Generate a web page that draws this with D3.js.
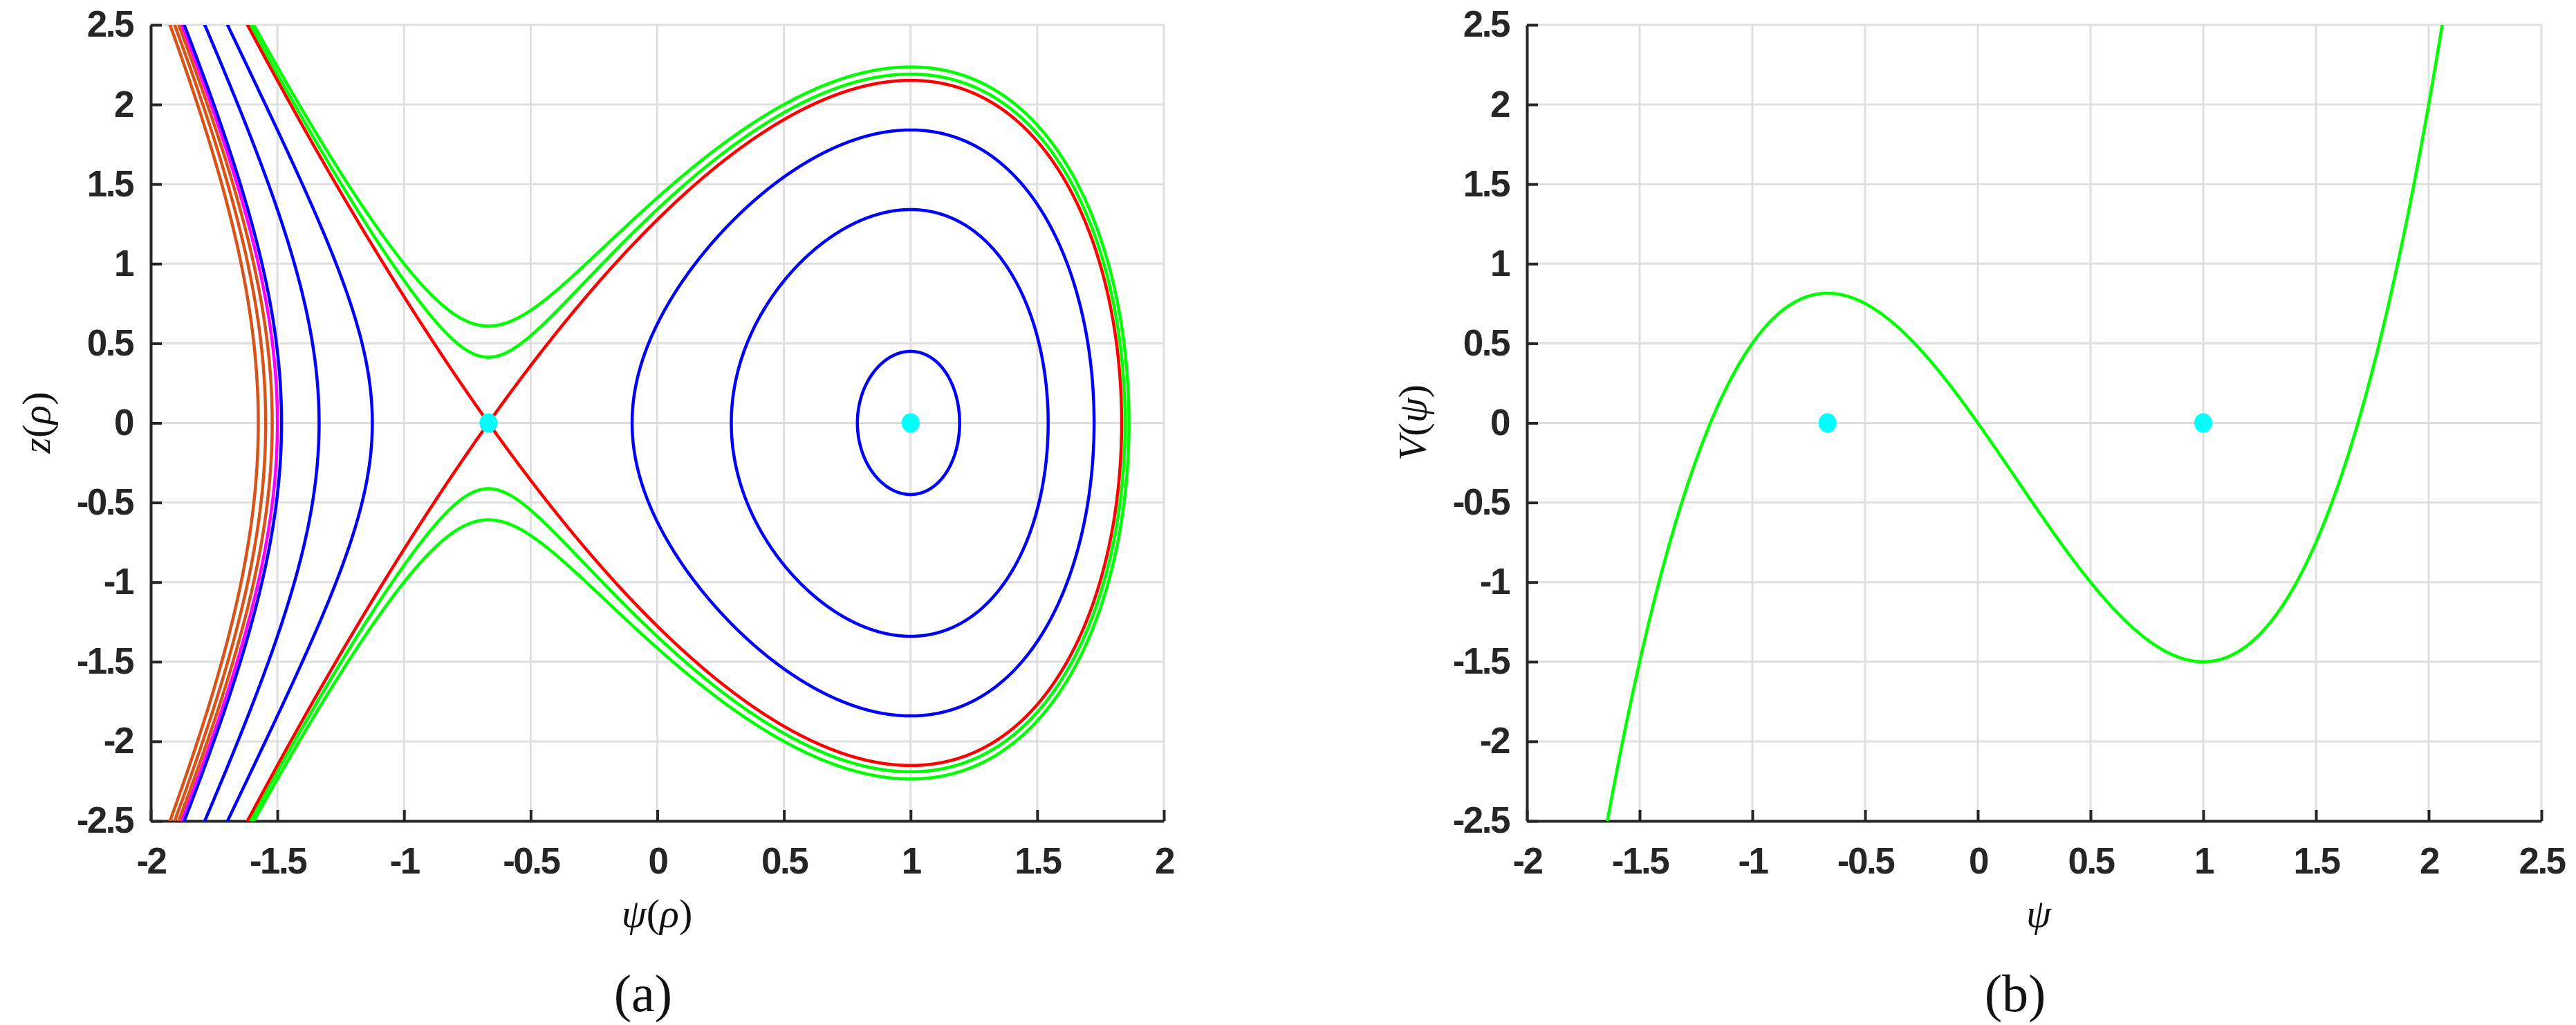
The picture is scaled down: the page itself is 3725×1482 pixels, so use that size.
<!DOCTYPE html>
<html><head><meta charset="utf-8">
<script src="https://cdn.jsdelivr.net/npm/d3@7"></script>
<style>body{margin:0;background:#fff}</style>
</head><body>
<svg id="c" width="3725" height="1482"></svg>
<script>
// Potential V(psi) = a3*psi^3 + a2*psi^2 + a1*psi (max 0.815 at -2/3, min -1.5 at 1)
const potCoef = [1, -0.5, -2];
// Energy levels H = z^2/2 + V(psi), read from the phase portrait
const orangeLevels = [-2.0, -1.8, -1.63];
const magentaLevels = [-1.5];
const blueLevels = [-1.399, -0.602, 0.193];
const redLevels = [22/27];
const greenLevels = [0.9, 1.0];
const fixedPoints = [[-2/3, 0], [1, 0]];
const ticksA_x = [-2,-1.5,-1,-0.5,0,0.5,1,1.5,2];
const ticksB_x = [-2,-1.5,-1,-0.5,0,0.5,1,1.5,2,2.5];
const ticksY = [-2.5,-2,-1.5,-1,-0.5,0,0.5,1,1.5,2,2.5];

const V = p => potCoef[0]*p*p*p + potCoef[1]*p*p + potCoef[2]*p;
const svg = d3.select("#c");
const plotTop = 36, plotBottom = 1187;
const axisCol = "#262626", gridCol = "#dfdfdf";

function panel(x0, x1, xdom, xticks, id) {
  const x = d3.scaleLinear().domain(xdom).range([x0, x1]);
  const y = d3.scaleLinear().domain([-2.5, 2.5]).range([plotBottom, plotTop]);
  const g = svg.append("g");
  g.append("defs").append("clipPath").attr("id", id).append("rect")
    .attr("x", x0).attr("y", plotTop).attr("width", x1-x0).attr("height", plotBottom-plotTop);
  g.selectAll(".gx").data(xticks).enter().append("line")
    .attr("x1", d=>x(d)).attr("x2", d=>x(d)).attr("y1", plotTop).attr("y2", plotBottom)
    .attr("stroke", gridCol).attr("stroke-width", 3);
  g.selectAll(".gy").data(ticksY).enter().append("line")
    .attr("x1", x0).attr("x2", x1).attr("y1", d=>y(d)).attr("y2", d=>y(d))
    .attr("stroke", gridCol).attr("stroke-width", 3);
  const fmt = d => String(d);
  const ax = g.append("g").attr("transform", `translate(0,${plotBottom})`)
    .call(d3.axisBottom(x).tickValues(xticks).tickSizeInner(-16).tickSizeOuter(0).tickPadding(38).tickFormat(fmt));
  const ay = g.append("g").attr("transform", `translate(${x0},0)`)
    .call(d3.axisLeft(y).tickValues(ticksY).tickSizeInner(-16).tickSizeOuter(0).tickPadding(26).tickFormat(fmt));
  [ax, ay].forEach(a => {
    a.select(".domain").attr("stroke", axisCol).attr("stroke-width", 4);
    a.selectAll(".tick line").attr("stroke", axisCol).attr("stroke-width", 4);
    a.selectAll("text").attr("fill", axisCol).attr("font-family", "Liberation Sans, Arial, sans-serif")
      .attr("font-weight", "bold").attr("font-size", 53).attr("letter-spacing", -2.5);
  });
  ax.selectAll("text").attr("dy", "0.71em");
  const plot = g.append("g").attr("clip-path", `url(#${id})`);
  return {x, y, plot, g};
}

const A = panel(218, 1683, [-2, 2], ticksA_x, "clipA");
const B = panel(2208, 3675, [-2, 2.5], ticksB_x, "clipB");

function contourSegments(E) {
  const segs = []; let cur = null;
  const step = 0.0005, lo = -2.05, hi = 2.05;
  let prevP = lo, prevQ = 2*(E - V(lo));
  for (let p = lo; p <= hi + 1e-9; p += step) {
    const q = 2*(E - V(p));
    if (q >= 0) {
      if (!cur) { cur = [];
        if (prevQ < 0) { const r = prevP + (p-prevP)*(-prevQ)/(q-prevQ); cur.push([r, 0]); } }
      cur.push([p, Math.sqrt(q)]);
    } else if (cur) {
      const r = prevP + (p-prevP)*prevQ/(prevQ-q); cur.push([r, 0]);
      segs.push(cur); cur = null;
    }
    prevP = p; prevQ = q;
  }
  if (cur) segs.push(cur);
  return segs;
}
const line = d3.line().x(d=>A.x(d[0])).y(d=>A.y(d[1]));
const groups = [
  [orangeLevels, "#D95319"], [magentaLevels, "#FF00FF"], [blueLevels, "#0000FF"],
  [greenLevels, "#00FF00"], [redLevels, "#FF0000"]
];
groups.forEach(([levels, col]) => {
  levels.forEach(E => {
    contourSegments(E).forEach(seg => {
      const pts = seg.concat(seg.slice().reverse().map(d => [d[0], -d[1]]));
      A.plot.append("path").attr("d", line(pts)).attr("fill", "none")
        .attr("stroke", col).attr("stroke-width", 4.5).attr("stroke-linejoin", "round");
    });
  });
});

const vpts = d3.range(-1.7, 2.12, 0.002).map(p => [p, V(p)]);
B.plot.append("path").attr("d", d3.line().x(d=>B.x(d[0])).y(d=>B.y(d[1]))(vpts))
  .attr("fill", "none").attr("stroke", "#00FF00").attr("stroke-width", 4.5);

[A, B].forEach(P => {
  P.plot.selectAll(".fp").data(fixedPoints).enter().append("ellipse")
    .attr("cx", d=>P.x(d[0])).attr("cy", d=>P.y(d[1])).attr("rx", 13).attr("ry", 14).attr("fill", "#00FFFF");
});

function label(x, y, html, size, rot) {
  const t = svg.append("text").attr("x", x).attr("y", y).attr("text-anchor", "middle")
    .attr("font-family", "Liberation Serif, Times New Roman, serif").attr("font-size", size).attr("fill", "#111");
  if (rot) t.attr("transform", `rotate(-90 ${x} ${y})`);
  t.html(html);
}
label(950, 1340, '<tspan font-style="italic">ψ</tspan>(<tspan font-style="italic">ρ</tspan>)', 58);
label(2948, 1340, '<tspan font-style="italic">ψ</tspan>', 58);
label(72, 611, '<tspan font-style="italic">z</tspan>(<tspan font-style="italic">ρ</tspan>)', 58, true);
label(2062, 611, '<tspan font-style="italic">V</tspan>(<tspan font-style="italic">ψ</tspan>)', 58, true);
label(930, 1462, '(a)', 76);
label(2914, 1462, '(b)', 76);
</script>
</body></html>
